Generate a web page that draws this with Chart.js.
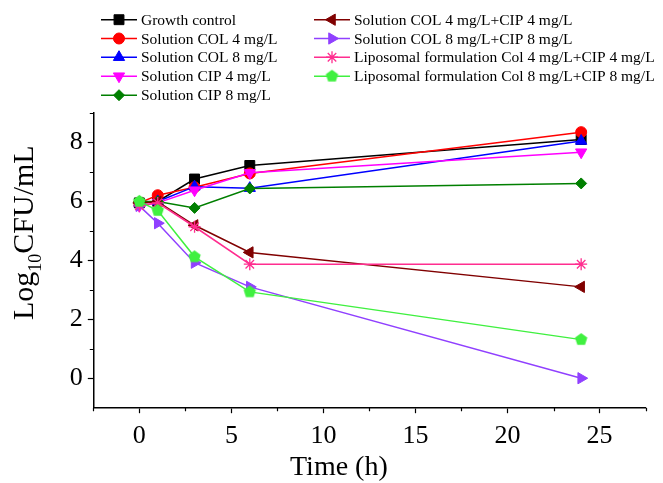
<!DOCTYPE html>
<html>
<head>
<meta charset="utf-8">
<title>Time-kill curves</title>
<script src="https://cdn.jsdelivr.net/npm/chart.js@4.4.1/dist/chart.umd.min.js"></script>
<style>
  html, body { margin: 0; padding: 0; background: #ffffff; }
  #wrap { width: 663px; height: 483px; position: relative; }
  canvas { display: block; }
</style>
</head>
<body>
<div id="wrap"><canvas id="chart" width="663" height="483"></canvas></div>
<script>
// Sampling times (h)
const timesH = [0, 1, 3, 6, 24];

// Log10 CFU/mL at each sampling time
const growthControl   = [5.95, 6.00, 6.76, 7.22, 8.10];
const solCol4         = [5.95, 6.21, 6.48, 6.95, 8.35];
const solCol8         = [5.95, 6.00, 6.50, 6.45, 8.05];
const solCip4         = [5.85, 5.95, 6.38, 6.97, 7.67];
const solCip8         = [6.00, 6.00, 5.78, 6.44, 6.61];
const solCol4Cip4     = [5.95, 5.99, 5.19, 4.27, 3.10];
const solCol8Cip8     = [5.85, 5.26, 3.92, 3.10, 0.00];
const lipoCol4Cip4    = [5.85, 5.95, 5.14, 3.87, 3.87];
const lipoCol8Cip8    = [6.00, 5.69, 4.12, 2.93, 1.31];

const seriesNames = [
  'Growth control',
  'Solution COL 4 mg/L',
  'Solution COL 8 mg/L',
  'Solution CIP 4 mg/L',
  'Solution CIP 8 mg/L',
  'Solution COL 4 mg/L+CIP 4 mg/L',
  'Solution COL 8 mg/L+CIP 8 mg/L',
  'Liposomal formulation Col 4 mg/L+CIP 4 mg/L',
  'Liposomal formulation Col 8 mg/L+CIP 8 mg/L'
];
const seriesValues = [growthControl, solCol4, solCol8, solCip4, solCip8,
                      solCol4Cip4, solCol8Cip8, lipoCol4Cip4, lipoCol8Cip8];

// Axis tick labels
const xTickLabels = [0, 5, 10, 15, 20, 25];
const yTickLabels = [0, 2, 4, 6, 8];

const SERIF = '"Liberation Serif", "Times New Roman", serif';

// Filled pentagon marker (no built-in pentagon point style)
function makePentagon(color, r) {
  const size = Math.ceil(r * 2 + 2);
  const c = document.createElement('canvas');
  c.width = size; c.height = size;
  const g = c.getContext('2d');
  g.fillStyle = color;
  g.beginPath();
  for (let i = 0; i < 5; i++) {
    const a = -Math.PI / 2 + i * 2 * Math.PI / 5;
    const px = size / 2 + r * Math.cos(a);
    const py = size / 2 + r * Math.sin(a);
    if (i === 0) g.moveTo(px, py); else g.lineTo(px, py);
  }
  g.closePath();
  g.fill();
  return c;
}

const styles = [
  { color: '#000000', pointStyle: 'rect',     rotation: 0,   radius: 7 },
  { color: '#ff0000', pointStyle: 'circle',   rotation: 0,   radius: 5.5 },
  { color: '#0000ff', pointStyle: 'triangle', rotation: 0,   radius: 6.5 },
  { color: '#ff00ff', pointStyle: 'triangle', rotation: 180, radius: 6.5 },
  { color: '#007f00', pointStyle: 'rectRot',  rotation: 0,   radius: 5.5 },
  { color: '#800000', pointStyle: 'triangle', rotation: 270, radius: 6.5 },
  { color: '#9040ff', pointStyle: 'triangle', rotation: 90,  radius: 6.5 },
  { color: '#ff2d8f', pointStyle: 'star',     rotation: 0,   radius: 6 },
  { color: '#40f040', pointStyle: makePentagon('#40f040', 6.5), rotation: 0, radius: 6.5 }
];

const datasets = seriesNames.map((name, i) => ({
  label: name,
  data: timesH.map((t, k) => ({ x: t, y: seriesValues[i][k] })),
  borderColor: styles[i].color,
  backgroundColor: styles[i].color,
  borderWidth: 1.5,
  tension: 0,
  pointStyle: styles[i].pointStyle,
  pointRotation: styles[i].rotation,
  pointRadius: styles[i].radius,
  pointBackgroundColor: styles[i].color,
  pointBorderColor: styles[i].color,
  pointBorderWidth: styles[i].pointStyle === 'star' ? 1.3 : 1,
  order: seriesNames.length - i
}));

const isLabelled = (list, v) => list.some(t => Math.abs(t - v) < 1e-6);

// Minor ticks, two-column legend and axis titles
const decorations = {
  id: 'decorations',
  afterDraw(chart) {
    const ctx = chart.ctx;
    const xs = chart.scales.x, ys = chart.scales.y;
    const area = chart.chartArea;
    ctx.save();

    // minor ticks
    ctx.strokeStyle = '#000';
    ctx.lineWidth = 1.2;
    ctx.beginPath();
    for (let v = -2.5; v <= 27.5 + 1e-6; v += 5) {
      const px = Math.round(xs.getPixelForValue(v)) + 0.5;
      ctx.moveTo(px, area.bottom);
      ctx.lineTo(px, area.bottom + 3.5);
    }
    for (let v = 1; v <= 9; v += 2) {
      const py = Math.round(ys.getPixelForValue(v)) + 0.5;
      ctx.moveTo(area.left, py);
      ctx.lineTo(area.left - 3.5, py);
    }
    ctx.stroke();

    // legend
    const rowsY = [19.7, 38.5, 57.2, 76.2, 95.2];
    const cols = [
      { x1: 101, x2: 137, mx: 119, tx: 141 },
      { x1: 314, x2: 350, mx: 332, tx: 354 }
    ];
    ctx.font = '15.5px ' + SERIF;
    ctx.textBaseline = 'alphabetic';
    ctx.textAlign = 'left';
    chart.data.datasets.forEach((ds, i) => {
      const col = cols[i < 5 ? 0 : 1];
      const y = rowsY[i < 5 ? i : i - 5];
      ctx.strokeStyle = ds.borderColor;
      ctx.lineWidth = 1.5;
      ctx.beginPath();
      ctx.moveTo(col.x1, y);
      ctx.lineTo(col.x2, y);
      ctx.stroke();
      ctx.fillStyle = ds.pointBackgroundColor;
      ctx.strokeStyle = ds.pointBorderColor;
      ctx.lineWidth = ds.pointBorderWidth;
      Chart.helpers.drawPoint(ctx, {
        pointStyle: ds.pointStyle,
        rotation: ds.pointRotation,
        radius: ds.pointRadius,
        borderWidth: ds.pointBorderWidth
      }, col.mx, y);
      ctx.fillStyle = '#000';
      ctx.fillText(ds.label, col.tx, y + 5.2);
    });

    // x axis title
    ctx.fillStyle = '#000';
    ctx.font = '28px ' + SERIF;
    ctx.textAlign = 'left';
    ctx.fillText('Time (h)', 290, 475);

    // y axis title with subscript
    ctx.translate(33, 320);
    ctx.rotate(-Math.PI / 2);
    ctx.font = '30px ' + SERIF;
    ctx.fillText('Log', 0, 0);
    let w = ctx.measureText('Log').width;
    ctx.font = '18px ' + SERIF;
    ctx.fillText('10', w, 7.5);
    w += ctx.measureText('10').width;
    ctx.font = '30px ' + SERIF;
    ctx.fillText('CFU/mL', w, 0);

    ctx.restore();
  }
};

Chart.defaults.font.family = SERIF;
Chart.defaults.color = '#000';

new Chart(document.getElementById('chart'), {
  type: 'line',
  data: { datasets },
  options: {
    responsive: false,
    devicePixelRatio: 1,
    animation: false,
    events: [],
    layout: { padding: { left: 0, top: 113, right: 17.4, bottom: 0 } },
    plugins: { legend: { display: false }, tooltip: { enabled: false } },
    scales: {
      x: {
        type: 'linear',
        position: 'bottom',
        min: -2.5,
        max: 27.5,
        ticks: {
          stepSize: 2.5,
          autoSkip: false,
          maxRotation: 0,
          padding: 7,
          font: { size: 26, family: SERIF },
          color: '#000',
          callback: v => isLabelled(xTickLabels, v) ? String(v) : ''
        },
        grid: {
          drawOnChartArea: false,
          drawTicks: true,
          tickLength: 5.5,
          tickWidth: 1.2,
          tickColor: c => (c.tick && isLabelled(xTickLabels, c.tick.value)) ? '#000' : 'rgba(0,0,0,0)'
        },
        border: { display: true, color: '#000', width: 1.5 },
        afterFit: s => { s.height = 75.3; }
      },
      y: {
        type: 'linear',
        position: 'left',
        min: -1,
        max: 9,
        ticks: {
          stepSize: 1,
          autoSkip: false,
          padding: 5,
          font: { size: 26, family: SERIF },
          color: '#000',
          callback: v => isLabelled(yTickLabels, v) ? String(v) : ''
        },
        grid: {
          drawOnChartArea: false,
          drawTicks: true,
          tickLength: 5.5,
          tickWidth: 1.2,
          tickColor: c => (c.tick && isLabelled(yTickLabels, c.tick.value)) ? '#000' : 'rgba(0,0,0,0)'
        },
        border: { display: true, color: '#000', width: 1.5 },
        afterFit: s => { s.width = 93.3; }
      }
    }
  },
  plugins: [decorations]
});
</script>
</body>
</html>
